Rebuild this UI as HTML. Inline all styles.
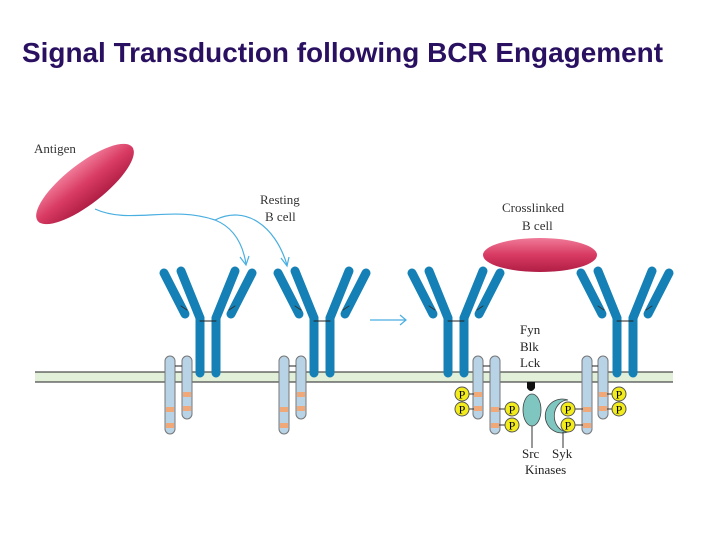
<!DOCTYPE html><html><head><style>body{margin:0;background:#fff}svg{display:block}</style></head><body>
<svg width="720" height="540" viewBox="0 0 720 540" xmlns="http://www.w3.org/2000/svg" font-family="Liberation Serif, serif">
<defs>
<linearGradient id="ag" x1="0" y1="0" x2="0" y2="1"><stop offset="0" stop-color="#f07a98"/><stop offset="0.5" stop-color="#d83a62"/><stop offset="1" stop-color="#b01e45"/></linearGradient>
<g id="ab" stroke="#1580b5" stroke-width="9" stroke-linecap="round" fill="none">
<path d="M-8 373 V318 L-27 271"/><path d="M8 373 V318 L27 271"/>
<path d="M-44 273 L-23 314"/><path d="M44 273 L23 314"/>
<path d="M-8 321 H8" stroke="#222" stroke-width="1"/>
<path d="M-27 306 l6 4 M27 306 l-6 4" stroke="#333" stroke-width="1"/>
</g>
<g id="P"><circle r="7" fill="#f3ec1c" stroke="#555" stroke-width="1"/><text y="4.5" text-anchor="middle" font-size="12" fill="#000">P</text></g>
</defs>
<text x="22" y="62" font-family="Liberation Sans, sans-serif" font-weight="bold" font-size="28" fill="#2a1060" textLength="641" lengthAdjust="spacingAndGlyphs">Signal Transduction following BCR Engagement</text>
<rect x="35" y="372" width="638" height="10" fill="#e2efd9"/>
<line x1="35" y1="372" x2="673" y2="372" stroke="#222" stroke-width="1"/>
<line x1="35" y1="382" x2="673" y2="382" stroke="#222" stroke-width="1"/>
<ellipse cx="85" cy="184" rx="60" ry="20" transform="rotate(-38 85 184)" fill="url(#ag)"/>
<text x="34" y="153" font-size="13" fill="#333">Antigen</text>
<text x="260" y="204" font-size="13" fill="#333">Resting</text>
<text x="265" y="221" font-size="13" fill="#333">B cell</text>
<path d="M95 209 C130 225 170 205 215 220 C235 228 243 245 246 264" fill="none" stroke="#49aee0" stroke-width="1.2"/>
<path d="M215 220 C245 205 275 225 287 265" fill="none" stroke="#49aee0" stroke-width="1.2"/>
<path d="M240 257 l6 8 l3 -9 M281 258 l6 8 l2 -9" fill="none" stroke="#49aee0" stroke-width="1.2"/>
<path d="M370 320 H406 M400 315 l6 5 l-6 5" fill="none" stroke="#49aee0" stroke-width="1.2"/>
<use href="#ab" x="208"/><use href="#ab" x="322"/><use href="#ab" x="456"/><use href="#ab" x="625"/>
<g stroke="#777" stroke-width="1" fill="#b8d3e6">
<rect x="165" y="356" width="10" height="78" rx="5"/><rect x="182" y="356" width="10" height="63" rx="5"/>
<rect x="279" y="356" width="10" height="78" rx="5"/><rect x="296" y="356" width="10" height="63" rx="5"/>
<rect x="473" y="356" width="10" height="63" rx="5"/><rect x="490" y="356" width="10" height="78" rx="5"/>
<rect x="582" y="356" width="10" height="78" rx="5"/><rect x="598" y="356" width="10" height="63" rx="5"/>
</g>
<g stroke="#222" stroke-width="1"><path d="M175 366H182M289 366H296M483 366H490M592 366H598"/></g>
<g fill="#f0a878">
<rect x="166" y="407" width="8" height="5"/><rect x="166" y="423" width="8" height="5"/><rect x="183" y="392" width="8" height="5"/><rect x="183" y="406" width="8" height="5"/>
<rect x="280" y="407" width="8" height="5"/><rect x="280" y="423" width="8" height="5"/><rect x="297" y="392" width="8" height="5"/><rect x="297" y="406" width="8" height="5"/>
<rect x="474" y="392" width="8" height="5"/><rect x="474" y="406" width="8" height="5"/><rect x="491" y="407" width="8" height="5"/><rect x="491" y="423" width="8" height="5"/>
<rect x="583" y="407" width="8" height="5"/><rect x="583" y="423" width="8" height="5"/><rect x="599" y="392" width="8" height="5"/><rect x="599" y="406" width="8" height="5"/>
</g>
<ellipse cx="540" cy="255" rx="57" ry="17" fill="url(#ag)"/>
<text x="502" y="212" font-size="13" fill="#333">Crosslinked</text>
<text x="522" y="230" font-size="13" fill="#333">B cell</text>
<text x="520" y="334" font-size="13" fill="#222">Fyn</text>
<text x="520" y="351" font-size="13" fill="#222">Blk</text>
<text x="520" y="367" font-size="13" fill="#222">Lck</text>
<path d="M527 382 H535 V388 Q531 394 527 388Z" fill="#111"/>
<ellipse cx="532" cy="410" rx="9" ry="16" fill="#7fc6c0" stroke="#444" stroke-width="0.8"/>
<line x1="532" y1="426" x2="532" y2="448" stroke="#333"/>
<path d="M568 400 A17 17 0 1 0 568 432 A12 14 0 1 1 568 400Z" fill="#7fc6c0" stroke="#444" stroke-width="0.8"/>
<line x1="563" y1="432" x2="563" y2="448" stroke="#333"/>
<text x="522" y="458" font-size="13" fill="#222">Src</text><text x="552" y="458" font-size="13" fill="#222">Syk</text>
<text x="525" y="474" font-size="13" fill="#222">Kinases</text>
<g stroke="#333" stroke-width="1"><path d="M469 394H474M469 409H474M499 409H505M499 425H505M575 409H583M575 425H583M607 394H612M607 409H612"/></g>
<use href="#P" x="462" y="394"/><use href="#P" x="462" y="409"/>
<use href="#P" x="512" y="409"/><use href="#P" x="512" y="425"/>
<use href="#P" x="568" y="409"/><use href="#P" x="568" y="425"/>
<use href="#P" x="619" y="394"/><use href="#P" x="619" y="409"/>
</svg>
</body></html>
